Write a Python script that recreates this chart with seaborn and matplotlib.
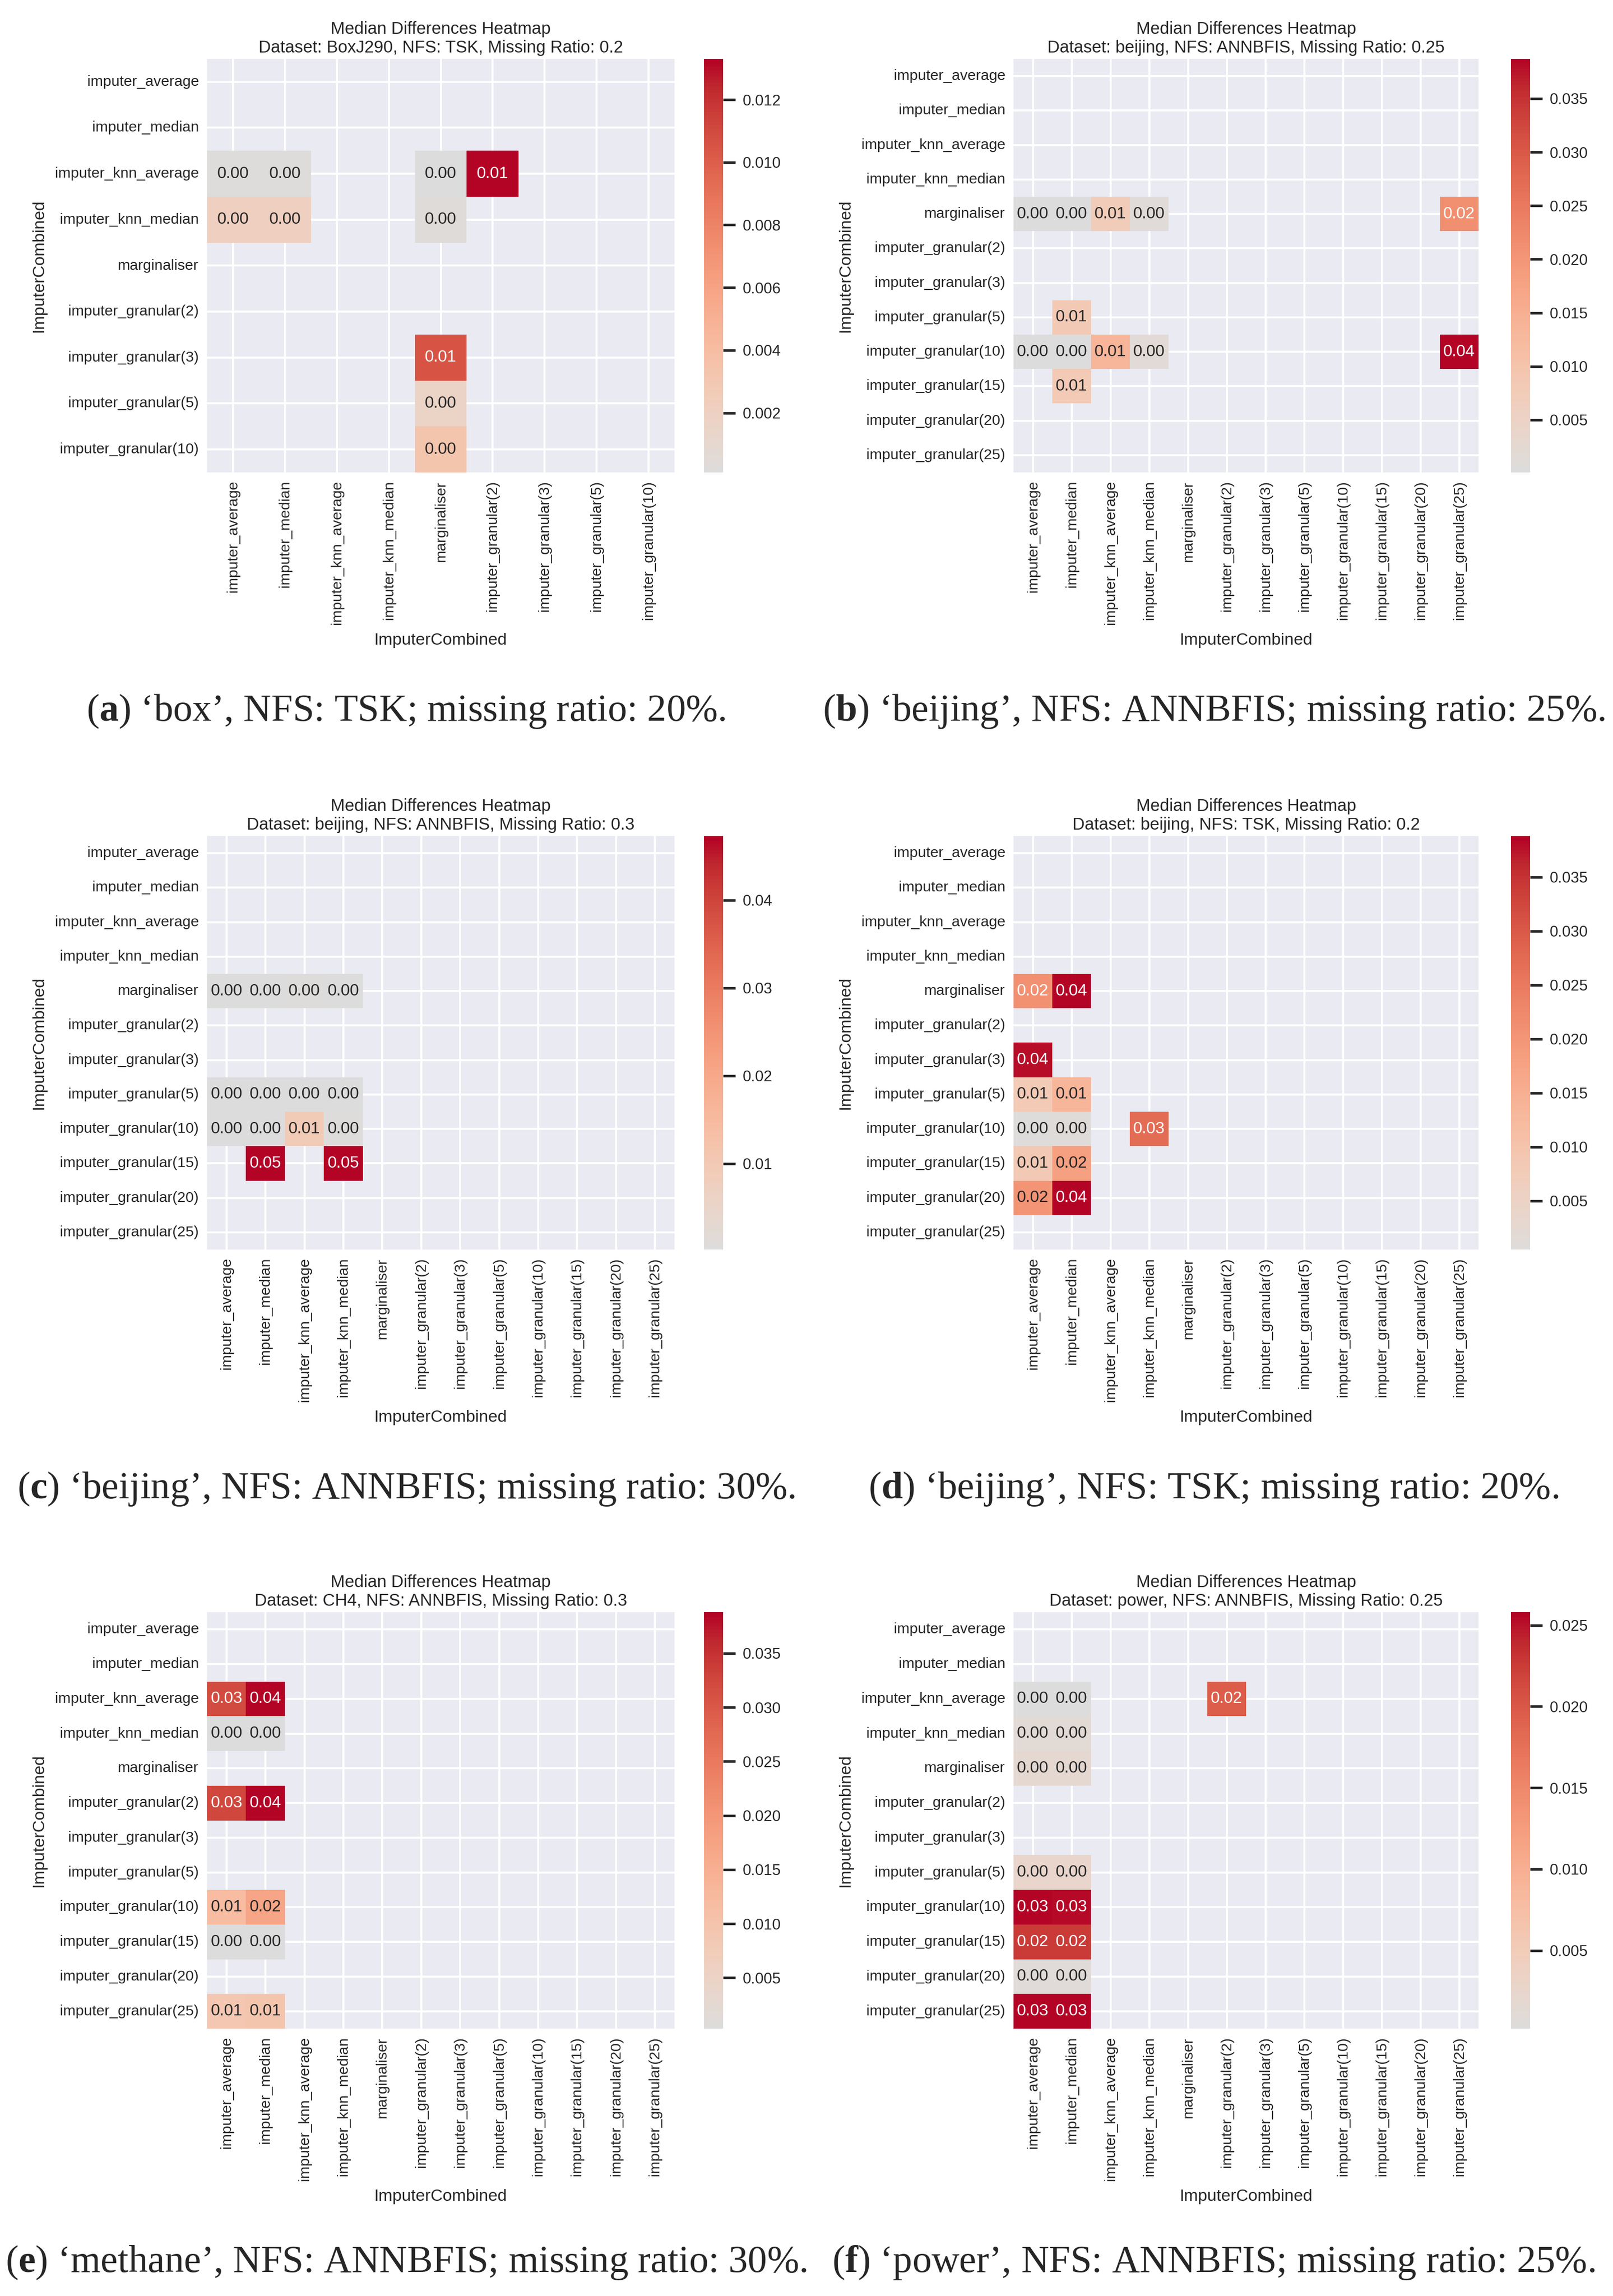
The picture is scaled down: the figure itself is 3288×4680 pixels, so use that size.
import numpy as np
import pandas as pd
import seaborn as sns
import matplotlib.pyplot as plt

sns.set_theme(style="darkgrid")
plt.rcParams["font.family"] = ["Liberation Sans", "DejaVu Sans"]
plt.rcParams["mathtext.fontset"] = "custom"
plt.rcParams["mathtext.rm"] = "Liberation Serif"
plt.rcParams["mathtext.bf"] = "Liberation Serif:bold"

# %%
labels_short = ["imputer_average", "imputer_median", "imputer_knn_average", "imputer_knn_median",
                "marginaliser", "imputer_granular(2)", "imputer_granular(3)", "imputer_granular(5)",
                "imputer_granular(10)"]
labels_full = labels_short + ["imputer_granular(15)", "imputer_granular(20)", "imputer_granular(25)"]

# (a) BoxJ290, TSK, 0.2
a_rows = ["imputer_knn_average", "imputer_knn_average", "imputer_knn_average", "imputer_knn_average",
          "imputer_knn_median", "imputer_knn_median", "imputer_knn_median",
          "imputer_granular(3)", "imputer_granular(5)", "imputer_granular(10)"]
a_cols = ["imputer_average", "imputer_median", "marginaliser", "imputer_granular(2)",
          "imputer_average", "imputer_median", "marginaliser",
          "marginaliser", "marginaliser", "marginaliser"]
a_vals = [0.0002, 0.0002, 0.0001, 0.0133, 0.0022, 0.0022, 0.0003, 0.0105, 0.0016, 0.0033]

# (b) beijing, ANNBFIS, 0.25
b_rows = ["marginaliser"] * 5 + ["imputer_granular(5)"] + ["imputer_granular(10)"] * 5 + ["imputer_granular(15)"]
b_cols = ["imputer_average", "imputer_median", "imputer_knn_average", "imputer_knn_median", "imputer_granular(25)",
          "imputer_median",
          "imputer_average", "imputer_median", "imputer_knn_average", "imputer_knn_median", "imputer_granular(25)",
          "imputer_median"]
b_vals = [0.0002, 0.0003, 0.0075, 0.0012, 0.0215, 0.0085, 0.0001, 0.0002, 0.0135, 0.0015, 0.0387, 0.0080]

# (c) beijing, ANNBFIS, 0.3
c_rows = ["marginaliser"] * 4 + ["imputer_granular(5)"] * 4 + ["imputer_granular(10)"] * 4 + ["imputer_granular(15)"] * 2
c_cols = ["imputer_average", "imputer_median", "imputer_knn_average", "imputer_knn_median"] * 3 + \
         ["imputer_median", "imputer_knn_median"]
c_vals = [0.0002, 0.0003, 0.0004, 0.0002, 0.0003, 0.0002, 0.0002, 0.0003,
          0.0002, 0.0003, 0.0095, 0.0004, 0.0473, 0.0470]

# (d) beijing, TSK, 0.2
d_rows = ["marginaliser", "marginaliser", "imputer_granular(3)", "imputer_granular(5)", "imputer_granular(5)",
          "imputer_granular(10)", "imputer_granular(10)", "imputer_granular(10)",
          "imputer_granular(15)", "imputer_granular(15)", "imputer_granular(20)", "imputer_granular(20)"]
d_cols = ["imputer_average", "imputer_median", "imputer_average", "imputer_average", "imputer_median",
          "imputer_average", "imputer_median", "imputer_knn_median",
          "imputer_average", "imputer_median", "imputer_average", "imputer_median"]
d_vals = [0.0210, 0.0388, 0.0380, 0.0080, 0.0135, 0.0005, 0.0008, 0.0270, 0.0085, 0.0180, 0.0205, 0.0385]

# (e) CH4, ANNBFIS, 0.3
e_rows = ["imputer_knn_average"] * 2 + ["imputer_knn_median"] * 2 + ["imputer_granular(2)"] * 2 + \
         ["imputer_granular(10)"] * 2 + ["imputer_granular(15)"] * 2 + ["imputer_granular(25)"] * 2
e_cols = ["imputer_average", "imputer_median"] * 6
e_vals = [0.0320, 0.0388, 0.0004, 0.0003, 0.0325, 0.0385, 0.0120, 0.0170, 0.0004, 0.0003, 0.0090, 0.0095]

# (f) power, ANNBFIS, 0.25
f_rows = ["imputer_knn_average"] * 3 + ["imputer_knn_median"] * 2 + ["marginaliser"] * 2 + \
         ["imputer_granular(5)"] * 2 + ["imputer_granular(10)"] * 2 + ["imputer_granular(15)"] * 2 + \
         ["imputer_granular(20)"] * 2 + ["imputer_granular(25)"] * 2
f_cols = ["imputer_average", "imputer_median", "imputer_granular(2)"] + ["imputer_average", "imputer_median"] * 7
f_vals = [0.0002, 0.0002, 0.0195, 0.0012, 0.0012, 0.0018, 0.0018, 0.0025, 0.0025,
          0.0258, 0.0255, 0.0225, 0.0225, 0.0008, 0.0008, 0.0256, 0.0256]

titles = ["Dataset: BoxJ290, NFS: TSK, Missing Ratio: 0.2",
          "Dataset: beijing, NFS: ANNBFIS, Missing Ratio: 0.25",
          "Dataset: beijing, NFS: ANNBFIS, Missing Ratio: 0.3",
          "Dataset: beijing, NFS: TSK, Missing Ratio: 0.2",
          "Dataset: CH4, NFS: ANNBFIS, Missing Ratio: 0.3",
          "Dataset: power, NFS: ANNBFIS, Missing Ratio: 0.25"]
captions = [r"($\mathbf{a}$) ‘box’, NFS: TSK; missing ratio: 20%.",
            r"($\mathbf{b}$) ‘beijing’, NFS: ANNBFIS; missing ratio: 25%.",
            r"($\mathbf{c}$) ‘beijing’, NFS: ANNBFIS; missing ratio: 30%.",
            r"($\mathbf{d}$) ‘beijing’, NFS: TSK; missing ratio: 20%.",
            r"($\mathbf{e}$) ‘methane’, NFS: ANNBFIS; missing ratio: 30%.",
            r"($\mathbf{f}$) ‘power’, NFS: ANNBFIS; missing ratio: 25%."]


def make_frame(labels, rows, cols, vals):
    df = pd.DataFrame(np.nan, index=labels, columns=labels)
    for r, c, v in zip(rows, cols, vals):
        df.loc[r, c] = v
    df.index.name = "ImputerCombined"
    df.columns.name = "ImputerCombined"
    return df


frames = [make_frame(labels_short, a_rows, a_cols, a_vals),
          make_frame(labels_full, b_rows, b_cols, b_vals),
          make_frame(labels_full, c_rows, c_cols, c_vals),
          make_frame(labels_full, d_rows, d_cols, d_vals),
          make_frame(labels_full, e_rows, e_cols, e_vals),
          make_frame(labels_full, f_rows, f_cols, f_vals)]

# %%
W, H = 3288, 4680
fig = plt.figure(figsize=(W / 300, H / 300), dpi=300)


def rect(x0, y0, x1, y1):
    return [x0 / W, 1 - y1 / H, (x1 - x0) / W, (y1 - y0) / H]


col_x = [(422, 1375, 1435, 1474, 828), (2066, 3014, 3080, 3119, 2474)]
row_y = [(120, 963, 1450), (1704, 2547, 3035), (3286, 4135, 4612)]

for i, df in enumerate(frames):
    ax_x0, ax_x1, cb_x0, cb_x1, cap_x = col_x[i % 2]
    y0, y1, cap_y = row_y[i // 2]
    ax = fig.add_axes(rect(ax_x0, y0, ax_x1, y1))
    cax = fig.add_axes(rect(cb_x0, y0, cb_x1, y1))
    sns.heatmap(df, ax=ax, cbar_ax=cax, cmap="coolwarm", center=0, annot=True, fmt=".2f",
                annot_kws={"fontsize": 8})
    ax.set_title("Median Differences Heatmap\n" + titles[i], fontsize=8.3, pad=3)
    ax.set_xticklabels(ax.get_xticklabels(), rotation=90, fontsize=7.3)
    ax.set_yticklabels(ax.get_yticklabels(), rotation=0, fontsize=7.3)
    ax.tick_params(axis="both", length=0, pad=4)
    ax.set_xlabel("ImputerCombined", fontsize=8.2)
    ax.set_ylabel("ImputerCombined", fontsize=8.2)
    cax.tick_params(labelsize=7.5)
    fig.text(cap_x / W, 1 - cap_y / H, captions[i], ha="center", va="center",
             fontsize=18.8, family="Liberation Serif")

fig.savefig("out.png", dpi=300)
